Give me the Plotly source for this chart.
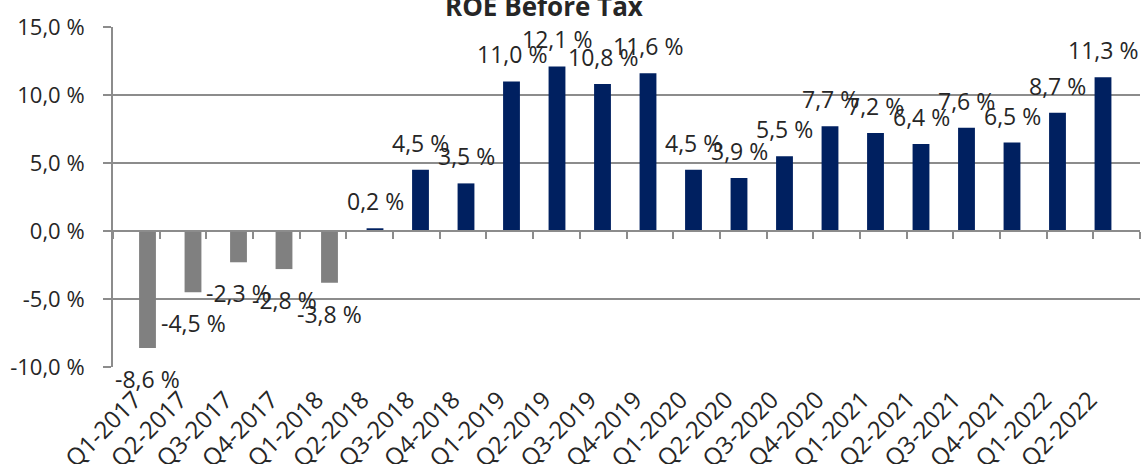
import plotly.graph_objects as go

quarters = ["Q1-2017", "Q2-2017", "Q3-2017", "Q4-2017", "Q1-2018", "Q2-2018",
            "Q3-2018", "Q4-2018", "Q1-2019", "Q2-2019", "Q3-2019", "Q4-2019",
            "Q1-2020", "Q2-2020", "Q3-2020", "Q4-2020", "Q1-2021", "Q2-2021",
            "Q3-2021", "Q4-2021", "Q1-2022", "Q2-2022"]
roe_before_tax = [-8.6, -4.5, -2.3, -2.8, -3.8, 0.2, 4.5, 3.5, 11.0, 12.1, 10.8,
                  11.6, 4.5, 3.9, 5.5, 7.7, 7.2, 6.4, 7.6, 6.5, 8.7, 11.3]
y_ticks = [-10, -5, 0, 5, 10, 15]

NAVY = "#002060"
GREY_BAR = "#808080"
GRID = "#8c8c8c"
TEXT = "#262626"
FONT = "Open Sans"

def fmt(v):
    return f"{v:.1f}".replace(".", ",") + " %"

bar_colors = [GREY_BAR if v < 0 else NAVY for v in roe_before_tax]

fig = go.Figure()
fig.add_trace(go.Bar(
    x=quarters, y=roe_before_tax,
    marker=dict(color=bar_colors, line=dict(width=0)),
    hoverinfo="skip",
))
# transparent copy on the overlay axis, which draws the zero line with boundary ticks
fig.add_trace(go.Bar(
    x=quarters, y=roe_before_tax, xaxis="x2", yaxis="y",
    marker=dict(color="rgba(0,0,0,0)", line=dict(width=0)),
    hoverinfo="skip", showlegend=False,
))

# value labels outside the bar end
for q, v in zip(quarters, roe_before_tax):
    fig.add_annotation(
        x=q, y=v, text=fmt(v), showarrow=False,
        xanchor="center", yanchor="middle",
        yshift=27 if v >= 0 else -31,
        font=dict(family=FONT, size=23, color=TEXT),
    )

fig.add_annotation(
    text="<b>ROE Before Tax</b>", xref="paper", yref="paper",
    x=(544 - 113) / (1140 - 113), y=1, yshift=1, xanchor="center", yanchor="bottom",
    showarrow=False, font=dict(family=FONT, size=26, color=TEXT),
)

fig.update_layout(
    width=1147, height=464,
    margin=dict(l=113, r=7, t=27, b=97, autoexpand=False),
    paper_bgcolor="white", plot_bgcolor="white",
    showlegend=False,
    bargap=0.63,
    barmode="overlay",
    xaxis=dict(
        type="category", showgrid=False, showline=False, ticks="",
        tickangle=-45, ticklabelstandoff=13, ticklabelshift=-13, automargin=False,
        tickfont=dict(family=FONT, size=24, color=TEXT),
        zeroline=False,
    ),
    xaxis2=dict(
        type="category", overlaying="x", anchor="free",
        position=0.4, side="bottom", automargin=False,
        showline=True, linecolor=GRID, linewidth=2,
        ticks="outside", tickson="boundaries", ticklen=7, tickcolor=GRID, tickwidth=2,
        showticklabels=False, showgrid=False, zeroline=False,
    ),
    yaxis=dict(
        range=[-10, 15], tickvals=y_ticks, ticktext=[fmt(v) for v in y_ticks],
        showgrid=True, gridcolor=GRID, gridwidth=2,
        showline=True, linecolor=GRID, linewidth=2,
        ticks="outside", ticklen=8, tickcolor=GRID, tickwidth=2,
        ticklabelstandoff=14, automargin=False,
        tickfont=dict(family=FONT, size=22, color=TEXT),
        zeroline=False,
    ),
)

fig.write_html("out.html")
